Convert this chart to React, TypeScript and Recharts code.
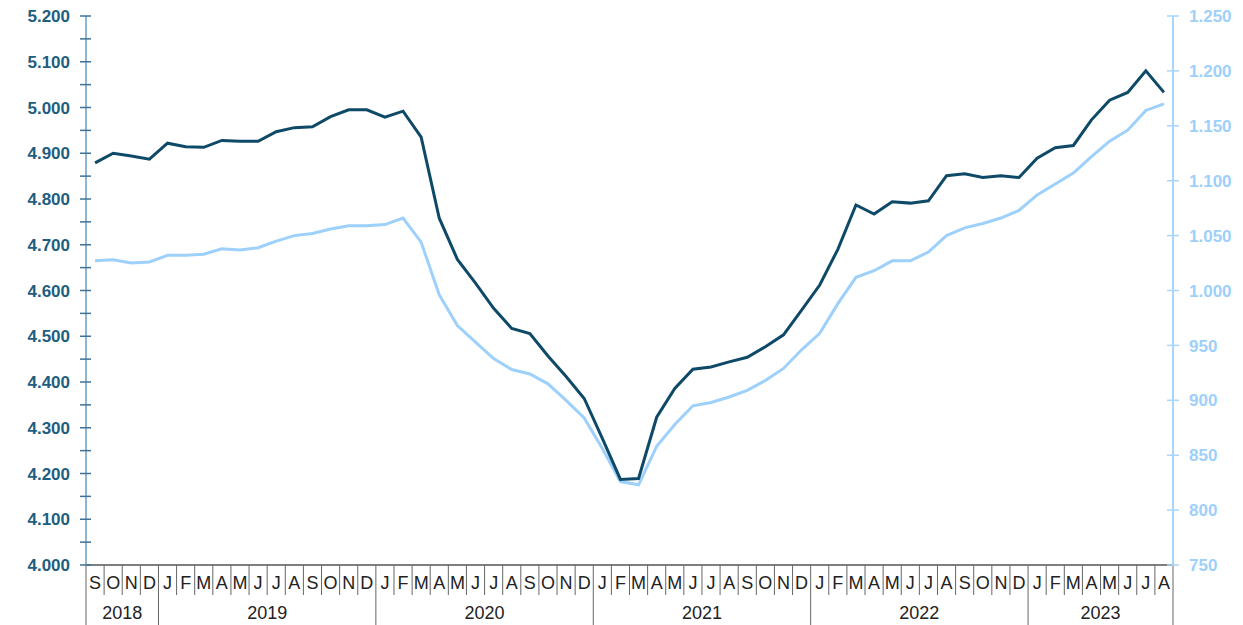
import React from "react";
import { ComposedChart, Line, XAxis, YAxis } from "recharts";

const monthLetters = [
  "S", "O", "N", "D",
  "J", "F", "M", "A", "M", "J", "J", "A", "S", "O", "N", "D",
  "J", "F", "M", "A", "M", "J", "J", "A", "S", "O", "N", "D",
  "J", "F", "M", "A", "M", "J", "J", "A", "S", "O", "N", "D",
  "J", "F", "M", "A", "M", "J", "J", "A", "S", "O", "N", "D",
  "J", "F", "M", "A", "M", "J", "J", "A",
];
const years = ["2018", "2019", "2020", "2021", "2022", "2023"];
const yearLengths = [4, 12, 12, 12, 12, 8];

const seriesDark = [
  4879, 4900, 4894, 4887,
  4922, 4914, 4913, 4928, 4926, 4926, 4947, 4956, 4958, 4980, 4995, 4995,
  4979, 4992, 4935, 4758, 4668, 4616, 4561, 4517, 4506, 4457, 4412, 4364,
  4277, 4187, 4189, 4323, 4386, 4428, 4433, 4444, 4454, 4477, 4503, 4557,
  4612, 4690, 4787, 4767, 4794, 4791, 4796, 4851, 4855, 4847, 4851, 4847,
  4889, 4912, 4917, 4973, 5016, 5033, 5080, 5033,
];
const seriesLight = [
  1027, 1028, 1025, 1026,
  1032, 1032, 1033, 1038, 1037, 1039, 1045, 1050, 1052, 1056, 1059, 1059,
  1060, 1066, 1044, 996, 968, 953, 938, 928, 924, 915, 900, 884,
  856, 826, 823, 858, 878, 895, 898, 903, 909, 918, 929, 946,
  961, 988, 1012, 1018, 1027, 1027, 1035, 1050, 1057, 1061, 1066, 1073,
  1087, 1097, 1107, 1122, 1136, 1146, 1164, 1170,
];

const leftTicks = [
  4000, 4050, 4100, 4150, 4200, 4250, 4300, 4350, 4400, 4450, 4500, 4550, 4600,
  4650, 4700, 4750, 4800, 4850, 4900, 4950, 5000, 5050, 5100, 5150, 5200,
];
const rightTicks = [750, 800, 850, 900, 950, 1000, 1050, 1100, 1150, 1200, 1250];

const yearStartIndex: Record<number, number> = {};
const keys: string[] = [];
{
  let idx = 0;
  years.forEach((y, gi) => {
    yearStartIndex[idx] = gi;
    for (let k = 0; k < yearLengths[gi]; k++) {
      keys.push(y + "-" + idx);
      idx++;
    }
  });
}

const data = keys.map((k, i) => ({
  key: k,
  dark: seriesDark[i],
  light: seriesLight[i],
}));

const W = 1235;
const H = 617;
const LEFT_W = 78;
const RIGHT_W = 70;
const PLOT_W = W - LEFT_W - RIGHT_W;
const BW = PLOT_W / monthLetters.length;

const DARK = "#0E4A68";
const LIGHT = "#9DD0FA";
const LEFT_LABEL = "#1E5E80";
const LEFT_AXIS = "#8CB6D4";
const LEFT_TICK = "#3F7294";
const RIGHT_LABEL = "#9DD0FA";
const RIGHT_AXIS = "#A8D5FA";
const FONT = "'Liberation Sans', Arial, sans-serif";
const GAP = 16;

const fmt = (n: number) => String(n).replace(/\B(?=(\d{3})+(?!\d))/g, ".");

const LeftTick = (props: any) => {
  const { x, y, payload } = props;
  const ax = x + GAP;
  const v = payload.value as number;
  return (
    <g>
      <line x1={ax - 6} x2={ax + 5} y1={y} y2={y} stroke={LEFT_TICK} strokeWidth={1.5} />
      {v % 100 === 0 && (
        <text
          x={x}
          y={y}
          dy="0.36em"
          textAnchor="end"
          fill={LEFT_LABEL}
          fontSize={17}
          fontWeight="bold"
          fontFamily={FONT}
        >
          {fmt(v)}
        </text>
      )}
    </g>
  );
};

const RightTick = (props: any) => {
  const { x, y, payload } = props;
  const ax = x - GAP;
  const v = payload.value as number;
  return (
    <g>
      <line x1={ax - 6} x2={ax + 6} y1={y} y2={y} stroke={RIGHT_AXIS} strokeWidth={1.5} />
      <text
        x={x}
        y={y}
        dy="0.36em"
        textAnchor="start"
        fill={RIGHT_LABEL}
        fontSize={17}
        fontWeight="bold"
        fontFamily={FONT}
      >
        {fmt(v)}
      </text>
    </g>
  );
};

const MonthTick = (props: any) => {
  const { x, y, payload } = props;
  const i = payload.index as number;
  const left = x - BW / 2;
  const right = x + BW / 2;
  const isYearStart = yearStartIndex[i] !== undefined;
  const isLast = i === monthLetters.length - 1;
  let yearEl = null;
  if (isYearStart) {
    const gi = yearStartIndex[i];
    const cx = left + (yearLengths[gi] * BW) / 2;
    yearEl = (
      <text
        x={cx}
        y={y + 48}
        dy="0.36em"
        textAnchor="middle"
        fill="#222"
        fontSize={18}
        fontFamily={FONT}
      >
        {years[gi]}
      </text>
    );
  }
  return (
    <g>
      <line
        x1={left}
        x2={left}
        y1={y}
        y2={isYearStart ? y + 62 : y + 30}
        stroke="#666"
        strokeWidth={1}
      />
      {isLast && <line x1={right} x2={right} y1={y} y2={y + 62} stroke="#666" strokeWidth={1} />}
      <text
        x={x}
        y={y + 18}
        dy="0.36em"
        textAnchor="middle"
        fill="#222"
        fontSize={18}
        fontFamily={FONT}
      >
        {monthLetters[i]}
      </text>
      {yearEl}
    </g>
  );
};

export default function App() {
  return (
    <div style={{ width: W, height: H }}>
      <ComposedChart
        width={W}
        height={H}
        data={data}
        margin={{ top: 8, right: 0, bottom: 0, left: 0 }}
      >
        <XAxis
          dataKey="key"
          scale="band"
          interval={0}
          height={60}
          tickSize={0}
          tickMargin={0}
          tickLine={false}
          axisLine={{ stroke: "#555", strokeWidth: 1.5 }}
          tick={<MonthTick />}
        />
        <YAxis
          yAxisId="left"
          orientation="left"
          width={LEFT_W}
          domain={[4000, 5200]}
          ticks={leftTicks}
          interval={0}
          tickSize={0}
          tickMargin={GAP}
          tickLine={false}
          axisLine={{ stroke: LEFT_AXIS, strokeWidth: 2 }}
          tick={<LeftTick />}
        />
        <YAxis
          yAxisId="right"
          orientation="right"
          width={RIGHT_W}
          domain={[750, 1250]}
          ticks={rightTicks}
          interval={0}
          tickSize={0}
          tickMargin={GAP}
          tickLine={false}
          axisLine={{ stroke: RIGHT_AXIS, strokeWidth: 2 }}
          tick={<RightTick />}
        />
        <Line
          yAxisId="right"
          dataKey="light"
          stroke={LIGHT}
          strokeWidth={3}
          dot={false}
          isAnimationActive={false}
        />
        <Line
          yAxisId="left"
          dataKey="dark"
          stroke={DARK}
          strokeWidth={3}
          dot={false}
          isAnimationActive={false}
        />
      </ComposedChart>
    </div>
  );
}
